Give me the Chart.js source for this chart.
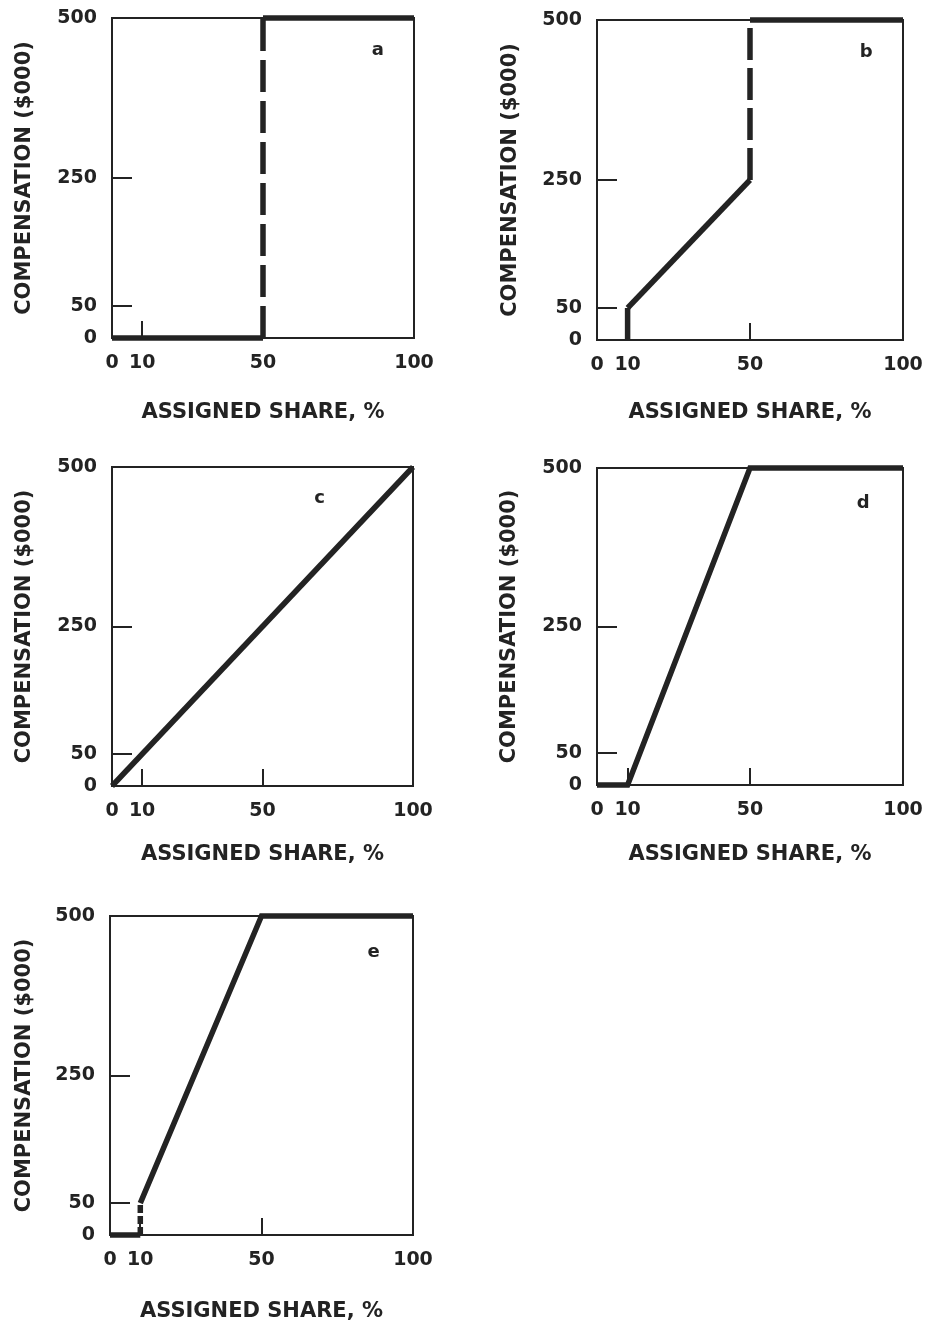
<!DOCTYPE html>
<html>
<head>
<meta charset="utf-8">
<script src="https://cdn.jsdelivr.net/npm/chart.js@4.4.1/dist/chart.umd.min.js"></script>
<style>
  html, body { margin: 0; padding: 0; background: #fff; overflow: hidden; }
  body { width: 928px; height: 1323px; position: relative; }
  canvas { position: absolute; }
</style>
</head>
<body>
<canvas id="pa"></canvas>
<canvas id="pb"></canvas>
<canvas id="pc"></canvas>
<canvas id="pd"></canvas>
<canvas id="pe"></canvas>
<script>
// axis ticks (labels) and the short inner tick marks
const xTicks = [0, 10, 50, 100];
const yTicks = [0, 50, 250, 500];
const xMarks = [10, 50];
const yMarks = [50, 250];

// assigned share (%) -> compensation ($000), one pair per panel
const shareA = [0, 50, 50, 100];
const compA  = [0, 0, 500, 500];
const shareB = [10, 10, 50, 50, 100];
const compB  = [0, 50, 250, 500, 500];
const shareC = [0, 100];
const compC  = [0, 500];
const shareD = [0, 10, 50, 100];
const compD  = [0, 0, 500, 500];
const shareE = [0, 10, 10, 50, 100];
const compE  = [0, 0, 50, 500, 500];

const ink = '#232323';
Chart.defaults.font.family = "'DejaVu Sans', sans-serif";
Chart.defaults.font.weight = 'bold';
Chart.defaults.color = ink;

// layout: canvas column, plot area [left, top, right, bottom], title spots, letter spot (data units)
const panels = [
  { id: 'pa', letter: 'a', share: shareA, comp: compA, dashed: [1], dash: [32, 9],
    left: 0, width: 440, area: [112, 18, 414, 338], yTitleX: 25, xTitleY: 413, tag: [88, 450] },
  { id: 'pb', letter: 'b', share: shareB, comp: compB, dashed: [0, 2], dash: [32, 8],
    left: 480, width: 448, area: [597, 20, 903, 340], yTitleX: 511, xTitleY: 413, tag: [88, 450] },
  { id: 'pc', letter: 'c', share: shareC, comp: compC, dashed: [], dash: [],
    left: 0, width: 440, area: [112, 467, 413, 786], yTitleX: 25, xTitleY: 855, tag: [69, 451] },
  { id: 'pd', letter: 'd', share: shareD, comp: compD, dashed: [], dash: [],
    left: 480, width: 448, area: [597, 468, 903, 785], yTitleX: 510, xTitleY: 855, tag: [87, 445] },
  { id: 'pe', letter: 'e', share: shareE, comp: compE, dashed: [1], dash: [8, 3],
    left: 0, width: 440, area: [110, 916, 413, 1235], yTitleX: 25, xTitleY: 1312, tag: [87, 443] }
];

const frame = {
  id: 'frame',
  beforeDatasetsDraw(chart) {
    const a = chart.chartArea, c = chart.ctx;
    c.save();
    c.strokeStyle = ink;
    c.lineWidth = 2;
    c.strokeRect(a.left, a.top, a.right - a.left, a.bottom - a.top);
    c.restore();
  }
};

function makePanel(p) {
  const cv = document.getElementById(p.id);
  const [L, T, R, B] = p.area;
  const top = T - 18;
  const axisH = p.xTitleY + 12 - B;
  const h = B + axisH - top;
  cv.width = p.width; cv.height = h;
  cv.style.left = p.left + 'px'; cv.style.top = top + 'px';
  cv.style.width = p.width + 'px'; cv.style.height = h + 'px';

  const letterPlugin = {
    id: 'letter',
    afterDatasetsDraw(chart) {
      const c = chart.ctx;
      c.save();
      c.fillStyle = ink;
      c.font = "bold 18px 'DejaVu Sans'";
      c.textAlign = 'center';
      c.textBaseline = 'middle';
      c.fillText(p.letter, chart.scales.x.getPixelForValue(p.tag[0]), chart.scales.y.getPixelForValue(p.tag[1]));
      c.restore();
    }
  };

  new Chart(cv, {
    type: 'scatter',
    data: {
      datasets: [{
        data: p.share.map((x, i) => ({ x: x, y: p.comp[i] })),
        showLine: true,
        borderColor: ink,
        borderWidth: 5.5,
        borderCapStyle: 'butt',
        borderJoinStyle: 'miter',
        pointRadius: 0,
        clip: false,
        segment: {
          borderDash: c => p.dashed.includes(c.p0DataIndex) ? p.dash : undefined
        }
      }]
    },
    options: {
      responsive: false,
      animation: false,
      events: [],
      layout: { padding: { top: 18, right: p.left + p.width - R, left: 0, bottom: 0 } },
      plugins: { legend: { display: false }, tooltip: { enabled: false } },
      scales: {
        x: {
          type: 'linear', min: 0, max: 100,
          afterBuildTicks: s => { s.ticks = xTicks.map(v => ({ value: v })); },
          afterFit: s => { s.height = axisH; s.paddingLeft = 0; s.paddingRight = 0; },
          border: { display: false },
          grid: {
            drawOnChartArea: false, tickLength: -17, lineWidth: 2,
            color: c => (c.tick && xMarks.includes(c.tick.value)) ? ink : 'rgba(0,0,0,0)'
          },
          ticks: { autoSkip: false, maxRotation: 0, padding: 31, color: ink, font: { size: 19, weight: 'bold' } },
          title: { display: true, text: 'ASSIGNED SHARE, %', color: ink, padding: 0,
                   font: { size: 21, weight: 'bold', lineHeight: 1.2 } }
        },
        y: {
          type: 'linear', min: 0, max: 500,
          afterBuildTicks: s => { s.ticks = yTicks.map(v => ({ value: v })); },
          afterFit: s => { s.width = L - p.left; s.paddingTop = 0; s.paddingBottom = 0; },
          border: { display: false },
          grid: {
            drawOnChartArea: false, tickLength: -20, lineWidth: 2,
            color: c => (c.tick && yMarks.includes(c.tick.value)) ? ink : 'rgba(0,0,0,0)'
          },
          ticks: { autoSkip: false, padding: 35, color: ink, font: { size: 19, weight: 'bold' } },
          title: { display: true, text: 'COMPENSATION ($000)', color: ink,
                   padding: { top: p.yTitleX - p.left - 12.6, bottom: 0 },
                   font: { size: 21, weight: 'bold', lineHeight: 1.2 } }
        }
      }
    },
    plugins: [frame, letterPlugin]
  });
}

panels.forEach(makePanel);
</script>
</body>
</html>
